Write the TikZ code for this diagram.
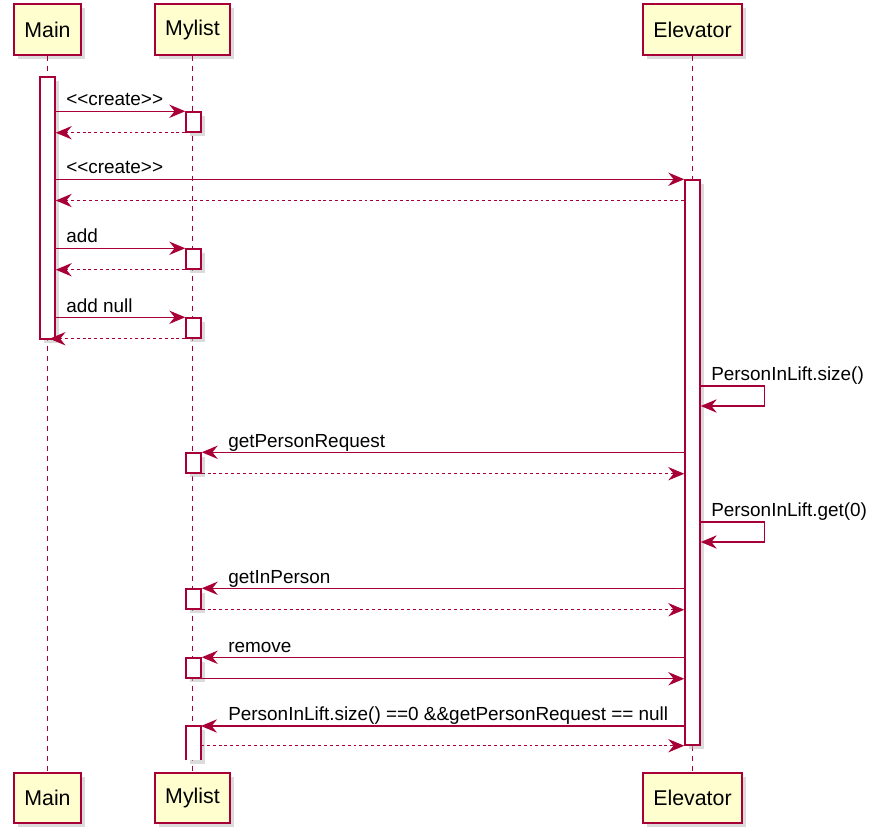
\documentclass[tikz,border=0pt]{standalone}
\usepackage{fontspec}
\setmainfont{Liberation Sans}
\usetikzlibrary{arrows.meta,shadows}
\definecolor{umlred}{HTML}{A80036}
\definecolor{umlfill}{HTML}{FEFECE}

\begin{document}
\begin{tikzpicture}[
		x=0.75pt,y=-0.75pt,
		umlshadow/.style={drop shadow={shadow xshift=3pt,shadow yshift=-3pt,fill=black!28,draw=none}},
		actor/.style={draw=umlred,line width=1.3pt,fill=umlfill,minimum height=38pt,inner sep=0pt,font=\fontsize{16}{19}\selectfont,umlshadow},
		act/.style={draw=umlred,line width=1.1pt,fill=white,minimum width=11.25pt,inner sep=0pt,umlshadow},
		msg/.style={umlred,line width=1pt,-{Stealth[length=12pt,width=10pt,inset=4pt]}},
		ret/.style={msg,dash pattern=on 2.2pt off 2.2pt},
		life/.style={umlred,line width=0.8pt,dash pattern=on 3.75pt off 3.75pt},
		lbl/.style={anchor=base west,inner sep=0pt,font=\fontsize{14.2}{17}\selectfont}
		]
		\useasboundingbox (0,0) rectangle (885,838);
		% participants
		\node[actor,minimum width=50pt] (main) at (47.5,29.5) {Main};
		\node[actor,minimum width=56pt] (mylist) at (192.5,29.5) {Mylist};
		\node[actor,minimum width=74pt] (elev) at (692.5,29.5) {Elevator};
		\node[actor,minimum width=50pt] (mainB) at (47.5,798) {Main};
		\node[actor,minimum width=56pt] (mylistB) at (192.5,798) {Mylist};
		\node[actor,minimum width=74pt] (elevB) at (692.5,798) {Elevator};
		\draw[life] (main) -- (mainB);
		\draw[life] (mylist) -- (mylistB);
		\draw[life] (elev) -- (elevB);
		% activations
		\node[act,minimum height=196.5pt] (mainA) at (47.5,208) {};
		\node[act,minimum height=423.75pt] (elevA) at (692.5,462.5) {};
		\node[act,minimum height=15pt] (m1) at (193.5,122) {};
		\node[act,minimum height=15pt] (m2) at (193.5,259) {};
		\node[act,minimum height=15pt] (m3) at (193.5,328) {};
		\node[act,minimum height=15pt] (m4) at (193.5,463) {};
		\node[act,minimum height=15pt] (m5) at (193.5,599) {};
		\node[act,minimum height=15pt] (m6) at (193.5,668) {};
		\node[act,draw=none,outer sep=0pt,minimum height=25.5pt] (m7) at (193.5,743) {};
		\draw[umlred,line width=1.1pt] (m7.south west) -- (m7.north west) -- (m7.north east) -- (m7.south east);
		% messages
		\draw[msg] (mainA.east |- m1.north) -- (m1.north west);
		\node[lbl] (t1) at (66,106) {{<}{<}create{>}{>}};
		\draw[ret] (m1.south west) -- (mainA.east |- m1.south);
		\draw[msg] (mainA.east |- elevA.north) -- (elevA.north west);
		\node[lbl] (t2) at (66,174) {{<}{<}create{>}{>}};
		\draw[ret] (elevA.west |- 0,200.5) -- (mainA.east |- 0,200.5);
		\draw[msg] (mainA.east |- m2.north) -- (m2.north west);
		\node[lbl] (t3) at (66,243) {add};
		\draw[ret] (m2.south west) -- (mainA.east |- m2.south);
		\draw[msg] (mainA.east |- m3.north) -- (m3.north west);
		\node[lbl] (t4) at (66,312) {add null};
		\draw[ret] (m3.south west) -- ([xshift=1.5pt]mainA.south |- m3.south);
		\draw[msg] (elevA.east |- 0,386) -- ++(64,0) -- ++(0,20) -- (elevA.east |- 0,406);
		\node[lbl] (t5) at (711,380) {PersonInLift.size()};
		\draw[msg] (elevA.west |- m4.north) -- (m4.north east);
		\node[lbl] (t6) at (228,447) {getPersonRequest};
		\draw[ret] (m4.south east) -- (elevA.west |- m4.south);
		\draw[msg] (elevA.east |- 0,522) -- ++(64,0) -- ++(0,20) -- (elevA.east |- 0,542);
		\node[lbl] (t7) at (711,516) {PersonInLift.get(0)};
		\draw[msg] (elevA.west |- m5.north) -- (m5.north east);
		\node[lbl] (t8) at (228,583) {getInPerson};
		\draw[ret] (m5.south east) -- (elevA.west |- m5.south);
		\draw[msg] (elevA.west |- m6.north) -- (m6.north east);
		\node[lbl] (t9) at (228,652) {remove};
		\draw[msg] (m6.south east) -- (elevA.west |- m6.south);
		\draw[msg] (elevA.west |- m7.north) -- (m7.north east);
		\node[lbl] (t10) at (228,720) {PersonInLift.size() ==0 \&\&getPersonRequest == null};
		\draw[ret] (m7.east |- elevA.south) -- (elevA.south west);
	\end{tikzpicture}
\end{document}
